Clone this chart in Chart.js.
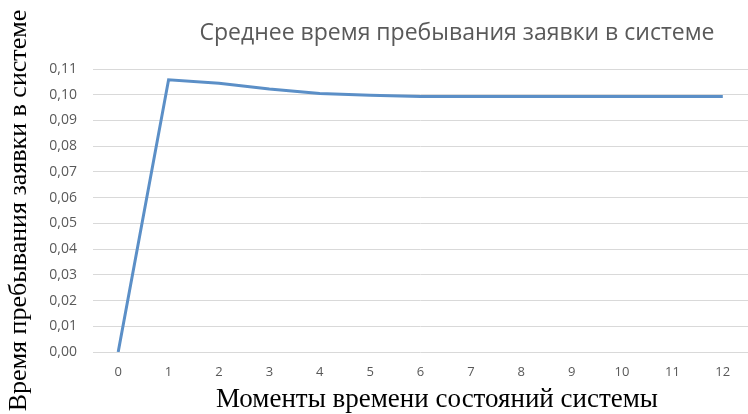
<!DOCTYPE html>
<html>
<head>
<meta charset="utf-8">
<script src="https://cdn.jsdelivr.net/npm/chart.js@4"></script>
<style>
  html, body { margin: 0; padding: 0; background: #fff; }
  #wrap { width: 748px; height: 414px; }
</style>
</head>
<body>
<div id="wrap"><canvas id="chart"></canvas></div>
<script>
// Data
const moments = ['0', '1', '2', '3', '4', '5', '6', '7', '8', '9', '10', '11', '12'];
const avgTime = [0, 0.1058, 0.1045, 0.1022, 0.1005, 0.0998, 0.0993, 0.0993, 0.0993, 0.0993, 0.0993, 0.0993, 0.0993];
const chartTitle = 'Среднее время пребывания заявки в системе';
const xTitle = 'Моменты времени состояний системы';
const yTitle = 'Время пребывания заявки в системе';

// Chart title and x-axis title sit off-center, like the Excel original
const titlePlugin = {
  id: 'excelTitles',
  afterDraw(chart) {
    const c = chart.ctx;
    c.save();
    c.textAlign = 'center';
    c.textBaseline = 'middle';
    c.font = '23px "Open Sans", sans-serif';
    c.fillStyle = '#595959';
    c.fillText(chartTitle, 457, 33);
    c.font = '27px "Liberation Serif", serif';
    c.fillStyle = '#000';
    c.fillText(xTitle, 437, 400);
    c.restore();
  }
};

new Chart(document.getElementById('chart'), {
  type: 'line',
  data: {
    labels: moments,
    datasets: [{
      data: avgTime,
      borderColor: '#5B8FC7',
      borderWidth: 3,
      pointRadius: 0,
      tension: 0,
      fill: false
    }]
  },
  options: {
    responsive: true,
    maintainAspectRatio: false,
    animation: false,
    layout: { padding: { top: 69, right: 0, left: 0, bottom: 0 } },
    plugins: { legend: { display: false }, tooltip: { enabled: false } },
    scales: {
      x: {
        offset: true,
        grid: { display: false, drawTicks: false },
        border: { display: false },
        ticks: { color: '#595959', font: { family: 'Open Sans', size: 13 }, padding: 12 },
        afterFit: s => { s.height = 62; }
      },
      y: {
        min: 0, max: 0.11,
        ticks: {
          stepSize: 0.01, color: '#595959', padding: 16,
          font: { family: 'Open Sans', size: 14 },
          callback: v => v.toFixed(2).replace('.', ',')
        },
        grid: { color: '#D9D9D9', lineWidth: 1, drawTicks: false },
        border: { display: false },
        title: {
          display: true, text: yTitle, color: '#000',
          font: { family: 'Liberation Serif', size: 26 }, padding: { top: 4, bottom: 0 }
        },
        afterFit: s => { s.width = 93; }
      }
    }
  },
  plugins: [titlePlugin]
});
</script>
</body>
</html>
